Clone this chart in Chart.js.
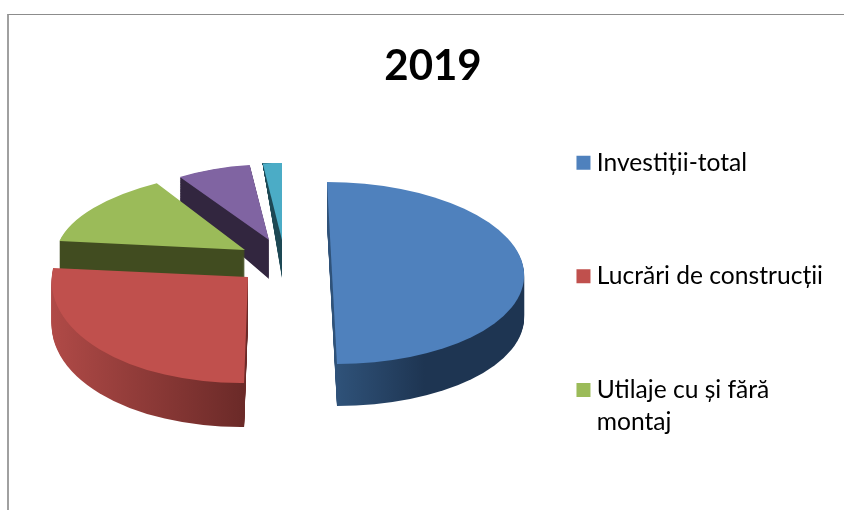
<!DOCTYPE html>
<html>
<head>
<meta charset="utf-8">
<script src="https://cdn.jsdelivr.net/npm/chart.js@4/dist/chart.umd.js"></script>
<style>
html,body{margin:0;padding:0;background:#fff;width:844px;height:510px;overflow:hidden}
#frame{position:absolute;left:7px;top:14px;width:861px;height:531px;border-left:2px solid #a0a0a0;border-top:1px solid #8c8c8c;box-sizing:border-box}
canvas{display:block}
</style>
</head>
<body>
<div id="frame"><canvas id="c" width="859" height="530"></canvas></div>
<script>
const titleText = '2019';
const categories = ['Investiții-total', 'Lucrări de construcții', ['Utilaje cu și fără', 'montaj']];
const shares = [50, 26.6, 14.1, 7.4, 1.9];
const topColors = ['#4f81bd', '#c0504d', '#9bbb59', '#8064a2', '#4bacc6'];
const sideColors = [['#2f5279', '#1e3552'], ['#b04a47', '#6b2a28'], ['#414c20', '#414c20'], ['#32263f', '#32263f'], ['#1d4854', '#1d4854']];

// 3D look of the exploded pie: where each slice's apex sits on the canvas, its flattening matrix, its thickness.
const apex = [[323, 258], [239, 262], [236, 235], [260, 225], [273, 225]];
const flatten = [[0.98, 0, 0.0255, 0.464], [1.0015, -0.0088, -0.02, 0.541], [0.961, 0.0056, -0.096, 0.405], [0.825, 0, 0, 0.385], [0.826, 0, 0, 0.393]];
const thickness = [42, 44, 28, 39, 38];
const bottomFlatten = [0.464, 0.541, 0.405, 0.47, 0.586];
const paintOrder = [4, 3, 2, 1, 0];
const legendDrop = 3;

const pie3d = {
  id: 'pie3d',
  afterLayout(chart) {
    chart.legend.top += legendDrop;
    chart.legend.bottom += legendDrop;
  },
  beforeDatasetDraw(chart, args) {
    const ctx = chart.ctx;
    const arcs = args.meta.data;
    paintOrder.forEach(i => {
      const arc = arcs[i];
      const [a, b, c, d] = flatten[i];
      const [tx, ty] = apex[i];
      const base = arc.options;
      const R = arc.outerRadius;
      const depth = thickness[i];
      const grad = ctx.createLinearGradient(arc.x - (i === 0 ? 0 : R), 0, arc.x + (i === 0 ? 90 : 0), 0);
      grad.addColorStop(0, sideColors[i][0]);
      grad.addColorStop(1, sideColors[i][1]);
      for (let t = depth; t >= 0; t--) {
        const dd = d + (bottomFlatten[i] - d) * t / depth;
        ctx.save();
        ctx.transform(a, b, c, dd, tx, ty + t);
        ctx.translate(-arc.x, -arc.y);
        const o = Object.create(base);
        o.backgroundColor = t === 0 ? base.backgroundColor : grad;
        o.borderWidth = 0;
        arc.options = o;
        arc.draw(ctx);
        arc.options = base;
        ctx.restore();
      }
    });
    return false;
  }
};

const defaultLabels = Chart.overrides.doughnut.plugins.legend.labels.generateLabels;

new Chart(document.getElementById('c'), {
  type: 'pie',
  data: {
    labels: categories,
    datasets: [{
      data: shares,
      backgroundColor: topColors,
      borderWidth: 0,
      radius: 196
    }]
  },
  plugins: [pie3d],
  options: {
    responsive: false,
    animation: false,
    devicePixelRatio: 1,
    layout: { padding: { top: 26, right: 35, bottom: 0, left: 24 } },
    plugins: {
      tooltip: { enabled: false },
      title: {
        display: true,
        text: titleText,
        color: '#000',
        font: { family: 'Lato', size: 42, weight: 'bold' },
        padding: { top: 0, bottom: 30 }
      },
      legend: {
        position: 'right',
        labels: {
          color: '#000',
          font: { family: 'Lato', size: 24.6, lineHeight: 1.3 },
          boxWidth: 2,
          boxHeight: 2,
          padding: 89,
          generateLabels(chart) {
            return defaultLabels(chart).map(item => Object.assign(item, { lineWidth: 12, strokeStyle: item.fillStyle }));
          }
        }
      }
    }
  }
});
</script>
</body>
</html>
